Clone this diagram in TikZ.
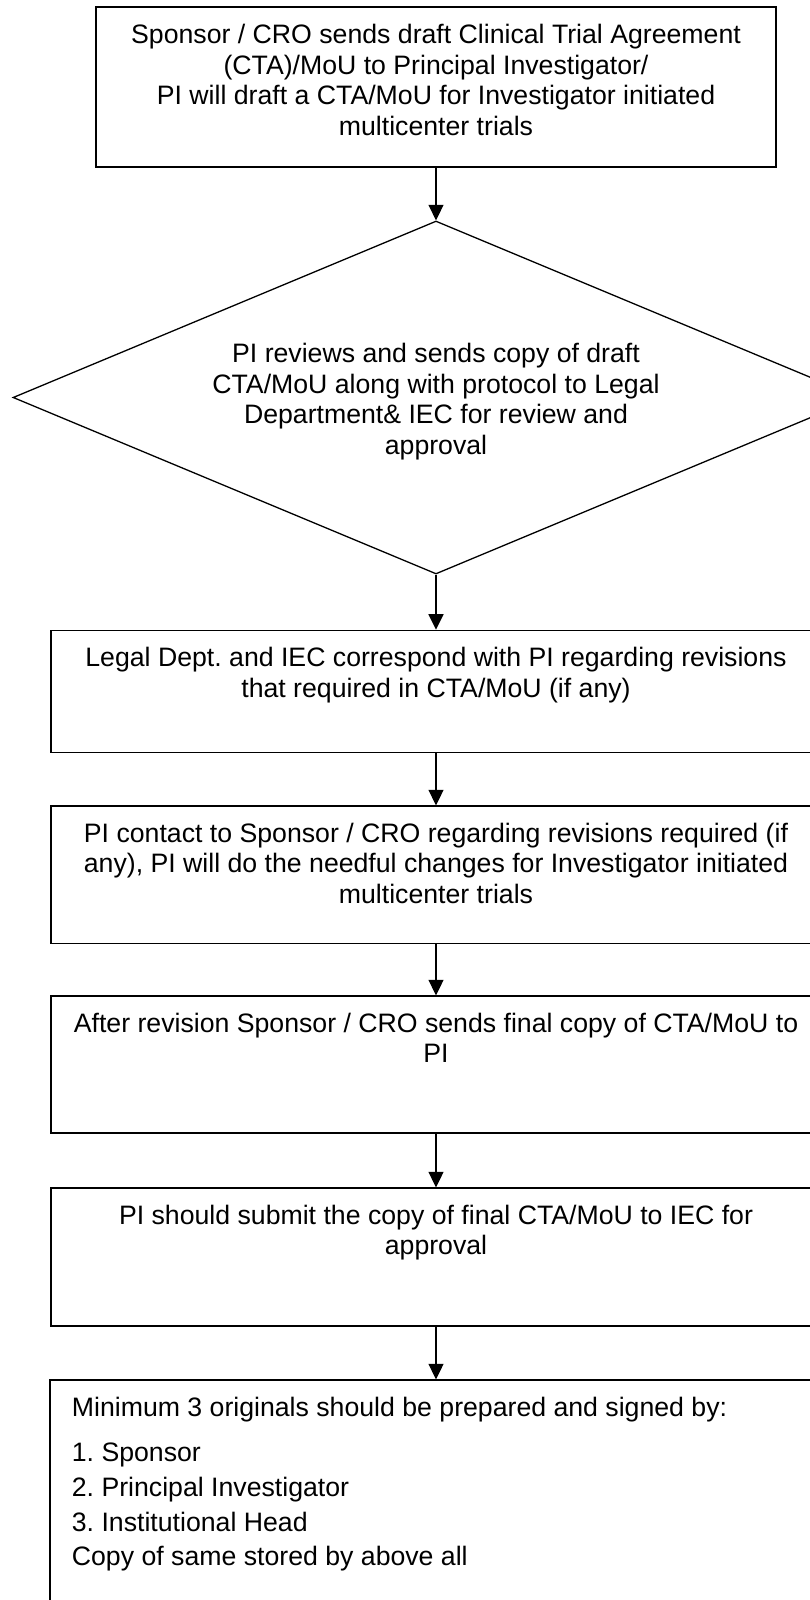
\documentclass[tikz,border=0pt]{standalone}
\usepackage{fontspec}
\setmainfont{Liberation Sans}
\usetikzlibrary{arrows.meta,shapes.geometric}
\frenchspacing

\begin{document}
\begin{tikzpicture}[x=1pt,y=-1pt,
  box/.style={draw, line width=1.3pt, rectangle, inner sep=0pt},
  dia/.style={draw, line width=1.3pt, diamond, inner sep=0pt},
  lbl/.style={inner sep=0pt, font=\fontsize{26.67pt}{30.67pt}\selectfont\frenchspacing},
  flow/.style={line width=1.3pt, -{Triangle[length=15.5pt,width=15pt]}}
]
\useasboundingbox (0,0) rectangle (810,1600);
\fill[white] (0,0) rectangle (810,1600);

% process boxes and decision
\node[box, minimum width=680pt, minimum height=160pt] (b1) at (436,87) {};
\node[dia, minimum width=846pt, minimum height=353pt] (d) at (436,397.5) {};
\node[box, minimum width=770pt, minimum height=122pt] (b2) at (436,691.35) {};
\node[box, minimum width=770pt, minimum height=137.3pt] (b3) at (436,874.65) {};
\node[box, minimum width=770pt, minimum height=137pt] (b4) at (436,1064.5) {};
\node[box, minimum width=770pt, minimum height=138pt] (b5) at (436,1257) {};
\node[box, minimum width=772pt, minimum height=240pt] (b6) at (436,1500) {};

% texts
\node[lbl, anchor=base] (t1) at (436,43.5) {\parbox[t]{760pt}{\centering
  Sponsor / CRO sends draft Clinical Trial Agreement\\
  (CTA)/MoU to Principal Investigator/\\
  PI will draft a CTA/MoU for Investigator initiated\\
  multicenter trials}};
\node[lbl, anchor=base] (td) at (436,362.5) {\parbox[t]{760pt}{\centering
  PI reviews and sends copy of draft\\
  CTA/MoU along with protocol to Legal\\
  Department\& IEC for review and\\
  approval}};
\node[lbl, anchor=base] (t2) at (436,666.5) {\parbox[t]{760pt}{\centering
  Legal Dept. and IEC correspond with PI regarding revisions\\
  that required in CTA/MoU (if any)}};
\node[lbl, anchor=base] (t3) at (436,842.3) {\parbox[t]{760pt}{\centering
  PI contact to Sponsor / CRO regarding revisions required (if\\
  any), PI will do the needful changes for Investigator initiated\\
  multicenter trials}};
\node[lbl, anchor=base] (t4) at (436,1032.3) {\parbox[t]{760pt}{\centering
  After revision Sponsor / CRO sends final copy of CTA/MoU to\\
  PI}};
\node[lbl, anchor=base] (t5) at (436,1224) {\parbox[t]{760pt}{\centering
  PI should submit the copy of final CTA/MoU to IEC for\\
  approval}};
\node[lbl, anchor=base west] (t6) at (71.7,1416) {\parbox[t]{720pt}{\raggedright
  Minimum 3 originals should be prepared and signed by:\\[15pt]
  1. Sponsor\\[4.3pt]
  2. Principal Investigator\\[4.3pt]
  3. Institutional Head\\[3pt]
  Copy of same stored by above all}};

% connectors
\draw[flow] (b1.south) -- (d.north);
\draw[flow] (d.south) -- (b2.north);
\draw[flow] (b2.south) -- (b3.north);
\draw[flow] (b3.south) -- (b4.north);
\draw[flow] (b4.south) -- (b5.north);
\draw[flow] (b5.south) -- (b6.north);
\end{tikzpicture}
\end{document}
